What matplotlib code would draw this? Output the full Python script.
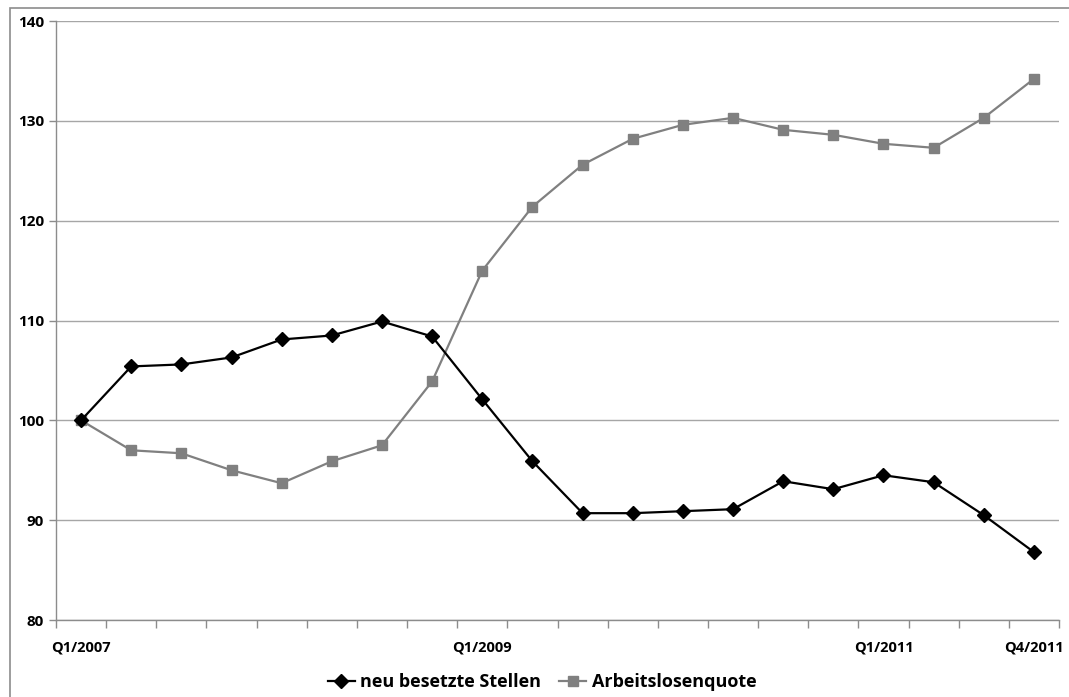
# Neu besetzte Stellen vs. Arbeitslosenquote, Index Q1/2007 = 100

import matplotlib
matplotlib.use("Agg")
from matplotlib import pyplot as plt
from matplotlib.patches import Rectangle

plt.rcParams['font.family'] = ['Open Sans', 'DejaVu Sans']
plt.rcParams['font.weight'] = 'bold'

# --- DATA ---

x_labels = ["Q1/2007", "", "", "", "", "", "", "",
            "Q1/2009", "", "", "", "", "", "", "",
            "Q1/2011", "", "", "Q4/2011"]

stellen = [100.0, 105.4, 105.6, 106.3, 108.1, 108.5, 109.9, 108.4,
           102.1, 95.9, 90.7, 90.7, 90.9, 91.1, 93.9, 93.1,
           94.5, 93.8, 90.5, 86.8]

quote = [100.0, 97.0, 96.7, 95.0, 93.7, 95.9, 97.5, 103.9,
         115.0, 121.4, 125.6, 128.2, 129.6, 130.3, 129.1, 128.6,
         127.7, 127.3, 130.3, 134.2]

y_ticks = [80, 90, 100, 110, 120, 130, 140]

# --- PLOT ---

fig = plt.figure(figsize=(10.69, 6.97), dpi=100)
fig.patch.set_facecolor('w')

# outer chart border
fig.patches.append(Rectangle((10/1069, -0.05), 1.1, 1.05 - 8/697,
                             transform=fig.transFigure, fill=False,
                             edgecolor='#8c8c8c', linewidth=1.2, zorder=0))

ax = fig.add_axes([56/1069, 1 - 620/697, (1059 - 56)/1069, (620 - 21)/697])

xs = list(range(len(x_labels)))
ax.plot(xs, stellen, color='black', linewidth=1.6, marker='D', markersize=7,
        label='neu besetzte Stellen', zorder=3)
ax.plot(xs, quote, color='#808080', linewidth=1.6, marker='s', markersize=7.5,
        label='Arbeitslosenquote', zorder=2)

ax.set_xlim(-0.5, len(x_labels) - 0.5)
ax.set_ylim(80, 140)
ax.set_yticks(y_ticks)
ax.yaxis.grid(True, color='#a6a6a6', linewidth=1.0)
ax.set_axisbelow(True)

# category ticks sit between the points, labels under the points
ax.set_xticks([i - 0.5 for i in range(len(x_labels) + 1)])
ax.set_xticklabels([])
ax.set_xticks(xs, minor=True)
ax.set_xticklabels(x_labels, minor=True, fontsize=10.5, fontweight='bold')
ax.tick_params(axis='x', which='major', length=6, color='#8c8c8c', width=1)
ax.tick_params(axis='x', which='minor', length=0, pad=15)
ax.tick_params(axis='y', length=5, color='#8c8c8c', width=1, labelsize=11)
for lab in ax.get_yticklabels():
    lab.set_fontweight('bold')

for side in ['top', 'right']:
    ax.spines[side].set_visible(False)
for side in ['left', 'bottom']:
    ax.spines[side].set_color('#8c8c8c')
    ax.spines[side].set_linewidth(1.0)

fig.legend(loc='center', bbox_to_anchor=(542/1069, 1 - 682/697), ncol=2,
           frameon=False, handlelength=1.5, handletextpad=0.3,
           columnspacing=1.0, prop={'weight': 'bold', 'size': 13})

fig.savefig('out.png', dpi=100)
